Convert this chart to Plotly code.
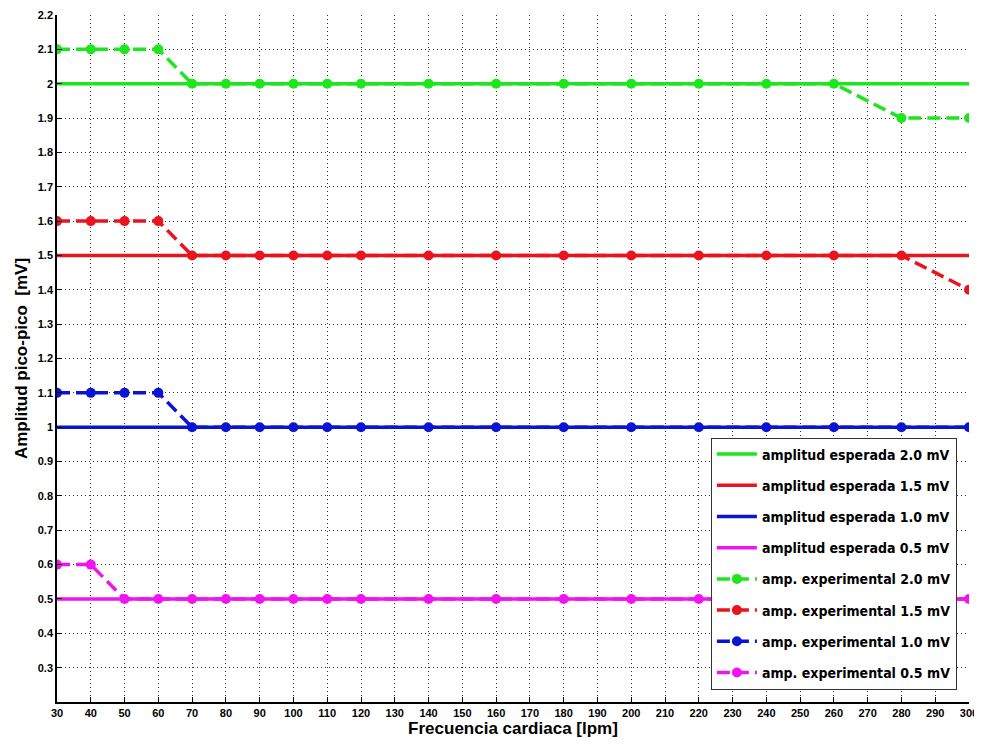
import plotly.graph_objects as go

x_lpm = [30, 40, 50, 60, 70, 80, 90, 100, 110, 120, 140, 160, 180, 200, 220, 240, 260, 280, 300]

esperada_20 = [2.0] * 19
esperada_15 = [1.5] * 19
esperada_10 = [1.0] * 19
esperada_05 = [0.5] * 19

exp_20 = [2.1, 2.1, 2.1, 2.1, 2.0, 2.0, 2.0, 2.0, 2.0, 2.0, 2.0, 2.0, 2.0, 2.0, 2.0, 2.0, 2.0, 1.9, 1.9]
exp_15 = [1.6, 1.6, 1.6, 1.6, 1.5, 1.5, 1.5, 1.5, 1.5, 1.5, 1.5, 1.5, 1.5, 1.5, 1.5, 1.5, 1.5, 1.5, 1.4]
exp_10 = [1.1, 1.1, 1.1, 1.1, 1.0, 1.0, 1.0, 1.0, 1.0, 1.0, 1.0, 1.0, 1.0, 1.0, 1.0, 1.0, 1.0, 1.0, 1.0]
exp_05 = [0.6, 0.6, 0.5, 0.5, 0.5, 0.5, 0.5, 0.5, 0.5, 0.5, 0.5, 0.5, 0.5, 0.5, 0.5, 0.5, 0.5, 0.5, 0.5]

x_ticks = list(range(30, 301, 10))
y_ticks = [round(0.3 + 0.1 * i, 1) for i in range(20)]
y_ticklabels = ["0.3", "0.4", "0.5", "0.6", "0.7", "0.8", "0.9", "1", "1.1", "1.2", "1.3", "1.4", "1.5",
                "1.6", "1.7", "1.8", "1.9", "2", "2.1", "2.2"]

colors = ["#1EE61E", "#E8141E", "#0A14D2", "#F014F0"]

fig = go.Figure()
esp = [esperada_20, esperada_15, esperada_10, esperada_05]
exps = [exp_20, exp_15, exp_10, exp_05]
esp_names = ["amplitud esperada 2.0 mV", "amplitud esperada 1.5 mV", "amplitud esperada 1.0 mV", "amplitud esperada 0.5 mV"]
exp_names = ["amp. experimental 2.0 mV", "amp. experimental 1.5 mV", "amp. experimental 1.0 mV", "amp. experimental 0.5 mV"]

for i in range(4):
    fig.add_trace(go.Scatter(x=x_lpm, y=esp[i], mode="lines", name=esp_names[i],
                             line=dict(color=colors[i], width=3.5), legendgroup="e%d" % i))
for i in range(4):
    fig.add_trace(go.Scatter(x=x_lpm, y=exps[i], mode="lines+markers", name=exp_names[i],
                             line=dict(color=colors[i], width=3.5, dash="13px,6px"),
                             marker=dict(color=colors[i], size=10, symbol="circle"),
                             legendgroup="x%d" % i))

tickfont = dict(family="Liberation Sans, Arial, sans-serif", size=11, color="black", weight="bold")
titlefont = dict(family="Liberation Sans, Arial, sans-serif", size=17, color="black", weight="bold")

fig.update_layout(
    width=974, height=736,
    margin=dict(l=49, r=13, t=7, b=42, autoexpand=False),
    plot_bgcolor="white", paper_bgcolor="white",
    showlegend=True,
    legend=dict(x=0.717, y=0.385, xanchor="left", yanchor="top",
                bgcolor="white", bordercolor="#333333", borderwidth=1,
                font=dict(family="DejaVu Sans Condensed, DejaVu Sans, sans-serif", size=14, color="black", weight="bold"),
                tracegroupgap=10, itemwidth=40),
    xaxis=dict(range=[30, 300], tickvals=x_ticks, ticktext=[str(v) for v in x_ticks],
               showgrid=True, gridcolor="#333333", griddash="1px,3px", gridwidth=1,
               showline=True, linecolor="black", linewidth=1.5, ticks="inside", ticklen=5,
               tickcolor="black", zeroline=False, automargin=False, ticklabeloverflow="allow",
               tickfont=tickfont,
               title=dict(text="Frecuencia cardiaca [lpm]", standoff=2, font=titlefont)),
    yaxis=dict(range=[0.2, 2.2], tickvals=y_ticks, ticktext=y_ticklabels,
               showgrid=True, gridcolor="#333333", griddash="1px,3px", gridwidth=1,
               showline=True, linecolor="black", linewidth=1.5, ticks="inside", ticklen=5,
               tickcolor="black", zeroline=False, automargin=False,
               tickfont=tickfont,
               title=dict(text="Amplitud pico-pico  [mV]", standoff=6, font=titlefont)),
)

fig.write_html("out.html")
